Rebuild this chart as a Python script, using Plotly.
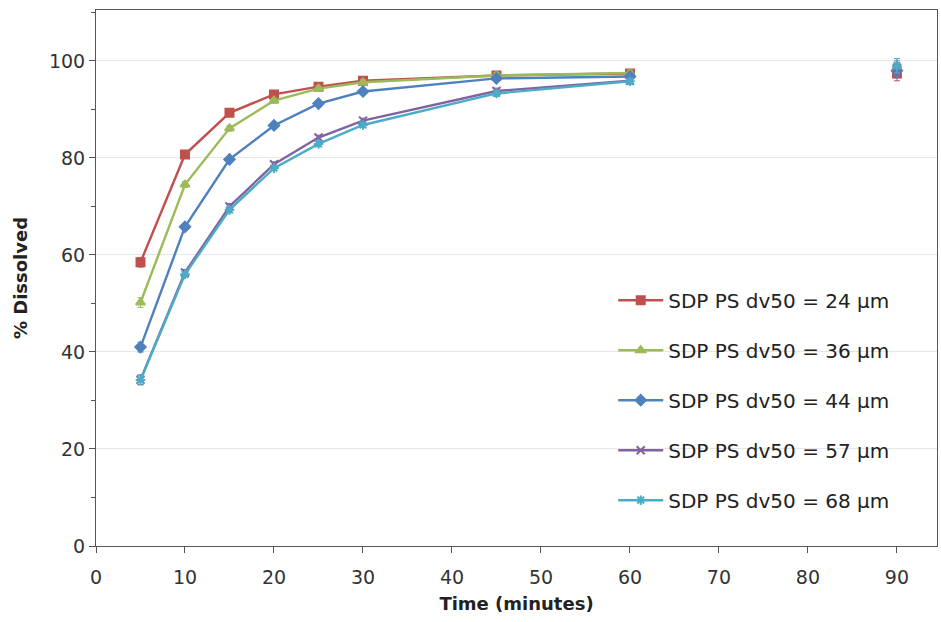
import plotly.graph_objects as go

time = [5, 10, 15, 20, 25, 30, 45, 60]
time_late = [90]

names = ["SDP PS dv50 = 24 µm", "SDP PS dv50 = 36 µm", "SDP PS dv50 = 44 µm",
         "SDP PS dv50 = 57 µm", "SDP PS dv50 = 68 µm"]

d24 = [58.5, 80.7, 89.3, 93.1, 94.7, 95.9, 97.0, 97.4]
d36 = [50.2, 74.5, 86.1, 91.8, 94.3, 95.6, 97.0, 97.5]
d44 = [41.0, 65.8, 79.7, 86.7, 91.2, 93.7, 96.4, 96.8]
d57 = [34.3, 56.4, 70.0, 78.7, 84.2, 87.7, 93.8, 95.9]
d68 = [34.2, 56.0, 69.3, 77.9, 82.9, 86.8, 93.3, 95.8]

d24_90 = [97.4]
d36_90 = [99.0]
d44_90 = [98.0]
d57_90 = [98.5]
d68_90 = [99.0]

err = [1.0, 0.6, 0.6, 0.5, 0.5, 0.5, 0.6, 0.6]
err_90 = [1.5]

colors = ["#C0504D", "#9BBB59", "#4F81BD", "#8064A2", "#4BACC6"]
symbols = ["square", "triangle-up", "diamond", "x-thin-open", "asterisk-open"]
series = [d24, d36, d44, d57, d68]
late = [d24_90, d36_90, d44_90, d57_90, d68_90]

FONT = "DejaVu Sans"

fig = go.Figure()
for i in range(5):
    fig.add_trace(go.Scatter(
        x=time, y=series[i], name=names[i], mode="lines+markers",
        legendgroup=str(i),
        line=dict(color=colors[i], width=2.4),
        marker=dict(symbol=symbols[i], size=8, color=colors[i],
                    line=dict(color=colors[i], width=2)),
        error_y=dict(type="data", array=err, color=colors[i], thickness=1, width=3),
    ))
for i in range(5):
    fig.add_trace(go.Scatter(
        x=time_late, y=late[i], mode="markers", showlegend=False,
        legendgroup=str(i),
        marker=dict(symbol=symbols[i], size=8, color=colors[i],
                    line=dict(color=colors[i], width=2)),
        error_y=dict(type="data", array=err_90, color=colors[i], thickness=1, width=3),
    ))

fig.update_layout(
    width=941, height=622,
    margin=dict(l=96, r=4, t=10, b=76),
    paper_bgcolor="white", plot_bgcolor="white",
    font=dict(family=FONT, size=19, color="#222"),
    showlegend=True,
    legend=dict(x=0.615, y=0.495, xanchor="left", yanchor="top",
                bgcolor="rgba(255,255,255,0)", font=dict(family=FONT, size=20, color="#222"),
                tracegroupgap=21, itemwidth=45),
    xaxis=dict(range=[0, 94.5], tickvals=[0, 10, 20, 30, 40, 50, 60, 70, 80, 90],
               showgrid=False, zeroline=False, showline=True, linecolor="#555",
               linewidth=1, mirror=True, ticks="outside", ticklen=6, tickcolor="#555",
               ticklabelstandoff=8,
               title=dict(text="<b>Time (minutes)</b>", font=dict(family=FONT, size=18), standoff=10),
               tickfont=dict(family=FONT, size=19, color="#333")),
    yaxis=dict(range=[0, 110.5], tickvals=[0, 20, 40, 60, 80, 100],
               showgrid=True, gridcolor="#e6e6e6", gridwidth=1,
               zeroline=False, showline=True, linecolor="#555",
               linewidth=1, mirror=True, ticks="outside", ticklen=6, tickcolor="#555",
               minor=dict(dtick=10, ticks="outside", ticklen=4, tickcolor="#555", showgrid=False),
               title=dict(text="<b>% Dissolved</b>", font=dict(family=FONT, size=18), standoff=16),
               tickfont=dict(family=FONT, size=19, color="#333")),
)

fig.write_html("out.html")
